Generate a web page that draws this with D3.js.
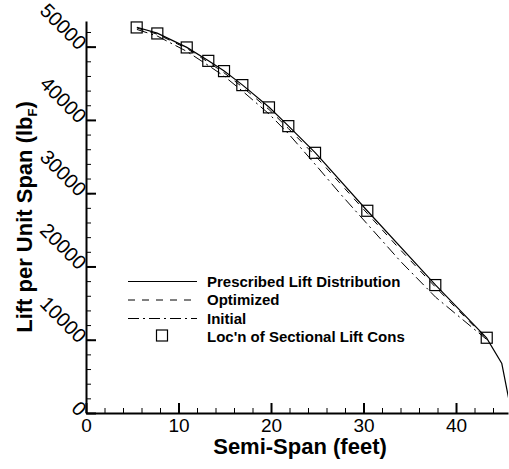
<!DOCTYPE html>
<html>
<head>
<meta charset="utf-8">
<script src="https://cdn.jsdelivr.net/npm/d3@7"></script>
<style>
  body { margin: 0; background: #fff; }
  svg { display: block; font-family: "Liberation Sans", Arial, Helvetica, sans-serif; }
  .axis path.domain { stroke: #000; stroke-width: 2; }
  .axis .tick line { stroke: #000; }
</style>
</head>
<body>
<svg id="chart" width="509" height="469"></svg>
<script>
// semi-span (ft) vs lift per unit span (lbF)
const prescribed = [
  [5.5, 52650], [7.7, 51850], [10.9, 49900], [13.2, 48100], [14.9, 46700],
  [16.9, 44780], [19.8, 41720], [21.9, 39150], [24.8, 35500], [30.4, 27600],
  [37.8, 17450], [43.3, 10250], [44.95, 6750], [46.0, 0]
];
const optimized = [
  [5.5, 52550], [7.7, 51700], [10.9, 49750], [13.2, 47900], [14.9, 46450],
  [16.9, 44500], [19.8, 41400], [21.9, 38800], [24.8, 35100], [27.5, 31300],
  [30.4, 27250], [34.0, 22250], [37.8, 17150], [43.3, 10100]
];
const initial = [
  [5.5, 52350], [7.7, 51450], [10.9, 49350], [13.2, 47450], [14.9, 46000],
  [16.9, 43950], [19.8, 40800], [21.9, 38100], [24.8, 33900], [27.5, 29900],
  [30.4, 25800], [34.0, 20700], [37.8, 15800], [43.3, 10050]
];
const constraintLocs = [
  [5.48, 52620], [7.71, 51800], [10.89, 49890], [13.22, 48060], [14.92, 46660],
  [16.9, 44750], [19.78, 41710], [21.87, 39150], [24.76, 35510], [30.41, 27600],
  [37.76, 17460], [43.32, 10270]
];
const xTicks = [0, 10, 20, 30, 40];
const yTicks = [0, 10000, 20000, 30000, 40000, 50000];
const legendLabels = ["Prescribed Lift Distribution", "Optimized", "Initial", "Loc'n of Sectional Lift Cons"];

const margin = {top: 21, right: 1, bottom: 56, left: 86};
const W = 509, H = 469;

const svg = d3.select('#chart');

const x = d3.scaleLinear().domain([0, 45.62]).range([margin.left, W - margin.right]);
const y = d3.scaleLinear().domain([0, 53500]).range([H - margin.bottom, margin.top]);

svg.append('defs').append('clipPath').attr('id', 'plotclip')
  .append('rect')
  .attr('x', margin.left).attr('y', margin.top)
  .attr('width', W - margin.right - margin.left)
  .attr('height', H - margin.bottom - margin.top);

// minor ticks
svg.append('g')
  .attr('class', 'axis')
  .attr('transform', `translate(0,${H - margin.bottom})`)
  .call(d3.axisBottom(x).tickValues(d3.range(2, 46, 2)).tickSize(-5).tickFormat(''))
  .call(g => g.select('.domain').remove());
svg.append('g')
  .attr('class', 'axis')
  .attr('transform', `translate(${margin.left},0)`)
  .call(d3.axisLeft(y).tickValues(d3.range(2000, 53000, 2000)).tickSize(-5).tickFormat(''))
  .call(g => g.select('.domain').remove());

// major ticks + axis lines
const xAxis = svg.append('g')
  .attr('class', 'axis')
  .attr('transform', `translate(0,${H - margin.bottom})`)
  .call(d3.axisBottom(x).tickValues(xTicks).tickSize(-10).tickSizeOuter(0).tickFormat(d3.format('d')));
xAxis.selectAll('.tick line').attr('stroke-width', 2);
xAxis.selectAll('.tick text')
  .attr('y', 18.5).attr('dy', 0)
  .attr('font-size', 19).attr('fill', '#000')
  .style('font-family', '"Liberation Sans", Arial, sans-serif');

const yAxis = svg.append('g')
  .attr('class', 'axis')
  .attr('transform', `translate(${margin.left},0)`)
  .call(d3.axisLeft(y).tickValues(yTicks).tickSize(-10).tickSizeOuter(0).tickFormat(d3.format('d')));
yAxis.selectAll('.tick line').attr('stroke-width', 2);
yAxis.selectAll('.tick text')
  .attr('x', null)
  .attr('text-anchor', 'end')
  .attr('transform', 'translate(-3,-1) rotate(45)')
  .attr('dy', '0.35em')
  .attr('font-size', 20).attr('fill', '#000')
  .style('font-family', '"Liberation Sans", Arial, sans-serif');

// curves
const line = d3.line().x(d => x(d[0])).y(d => y(d[1]));
const plot = svg.append('g').attr('clip-path', 'url(#plotclip)');

plot.append('path').datum(initial)
  .attr('d', line).attr('fill', 'none').attr('stroke', '#000')
  .attr('stroke-width', 1).attr('stroke-dasharray', '11,4,2,4');
plot.append('path').datum(optimized)
  .attr('d', line).attr('fill', 'none').attr('stroke', '#000')
  .attr('stroke-width', 1).attr('stroke-dasharray', '7,7');
plot.append('path').datum(prescribed)
  .attr('d', line).attr('fill', 'none').attr('stroke', '#000')
  .attr('stroke-width', 1.2);

const sq = 11;
svg.append('g').selectAll('rect')
  .data(constraintLocs)
  .join('rect')
    .attr('x', d => x(d[0]) - sq / 2)
    .attr('y', d => y(d[1]) - sq / 2)
    .attr('width', sq).attr('height', sq)
    .attr('fill', 'none').attr('stroke', '#000').attr('stroke-width', 1.2);

// axis titles
svg.append('text')
  .attr('x', 300).attr('y', 454)
  .attr('text-anchor', 'middle')
  .attr('font-size', 22).attr('font-weight', 'bold')
  .text('Semi-Span (feet)');

const yt = svg.append('text')
  .attr('transform', 'translate(32,217) rotate(-90)')
  .attr('text-anchor', 'middle')
  .attr('font-size', 22).attr('font-weight', 'bold');
yt.append('tspan').text('Lift per Unit Span (lb');
yt.append('tspan').attr('font-size', 13).attr('dy', 5).text('F');
yt.append('tspan').attr('dy', -5).text(')');

// legend
const legendY = [281.5, 300, 318.5, 336.5];
const legendDash = [null, '7,7', '11,4,2,4'];
const lg = svg.append('g');
legendLabels.forEach((lab, i) => {
  if (i < 3) {
    lg.append('line')
      .attr('x1', 128).attr('x2', 197)
      .attr('y1', legendY[i]).attr('y2', legendY[i])
      .attr('stroke', '#000').attr('stroke-width', 1)
      .attr('stroke-dasharray', legendDash[i]);
  } else {
    lg.append('rect')
      .attr('x', 162 - sq / 2).attr('y', legendY[i] - sq / 2 - 1)
      .attr('width', sq).attr('height', sq)
      .attr('fill', 'none').attr('stroke', '#000').attr('stroke-width', 1.2);
  }
  lg.append('text')
    .attr('x', 207).attr('y', legendY[i]).attr('dy', '0.36em')
    .attr('font-size', 15).attr('font-weight', 'bold')
    .text(lab);
});
</script>
</body>
</html>
